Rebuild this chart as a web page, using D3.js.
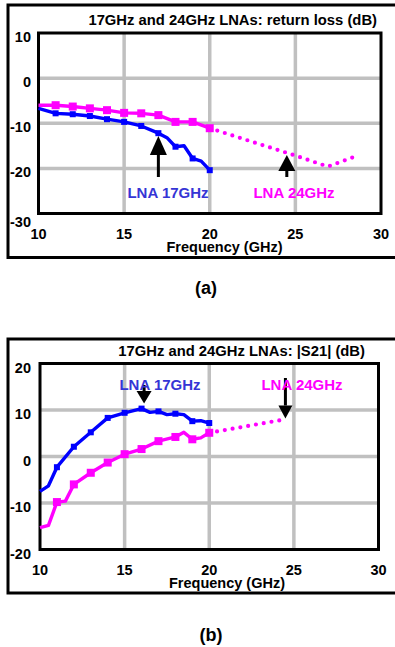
<!DOCTYPE html>
<html>
<head>
<meta charset="utf-8">
<script src="https://cdn.jsdelivr.net/npm/d3@7"></script>
<style>
  body { margin: 0; background: #fff; }
  text { font-family: Arial, "Liberation Sans", sans-serif; font-weight: bold; }
</style>
</head>
<body>
<script>
var w = 395;
var h = 647;

// ---- data ----
var freqTicks = [10, 15, 20, 25, 30];
var rlTicks = [10, 0, -10, -20, -30];
var s21Ticks = [20, 10, 0, -10, -20];

// return loss, LNA 17GHz (blue)
var rl17Freq = [10, 11, 12, 13, 14, 15, 16, 17, 17.5, 18, 18.5, 19, 19.5, 20];
var rl17Val = [-6.7, -7.8, -8.0, -8.4, -9.1, -9.7, -10.6, -12.2, -13.2, -15.2, -15.0, -17.8, -18.4, -20.4];
var rl17Marks = [11, 12, 13, 14, 15, 16, 17, 18, 19, 20];

// return loss, LNA 24GHz (magenta), measured + dotted part
var rl24Freq = [10, 11, 12, 13, 14, 15, 16, 17, 18, 19, 20];
var rl24Val = [-6.0, -6.0, -6.3, -6.7, -7.1, -7.7, -7.8, -8.2, -9.7, -9.7, -11.1];
var rl24ExtFreq = [20, 24.7, 26.9, 28.4];
var rl24ExtVal = [-11.1, -16.8, -19.6, -17.5];

// |S21|, LNA 17GHz (blue)
var s17Freq = [10, 10.5, 11, 12, 13, 14, 15, 16, 16.5, 17, 17.5, 18, 18.5, 19, 19.5, 20];
var s17Val = [-7.5, -6.3, -2.3, 2.1, 5.2, 8.3, 9.4, 10.3, 9.5, 9.7, 9.0, 9.2, 9.0, 7.6, 7.7, 7.2];
var s17Marks = [11, 12, 13, 14, 15, 16, 17, 18, 19, 20];

// |S21|, LNA 24GHz (magenta)
var s24Freq = [10, 10.5, 11, 11.5, 12, 13, 14, 15, 16, 17, 18, 18.5, 19, 19.5, 20];
var s24Val = [-15.3, -14.8, -9.8, -9.6, -6.0, -3.5, -1.3, 0.5, 1.6, 3.3, 4.2, 5.2, 3.7, 4.0, 5.1];
var s24Marks = [11, 12, 13, 14, 15, 16, 17, 18, 19, 20];
var s24ExtFreq = [20, 24.5];
var s24ExtVal = [5.1, 8.0];

var blue = "#0000ff";
var magenta = "#ff00ff";
var blueText = "#3535d5";
var grid = "#c0c0c0";

var svg = d3.select("body").append("svg")
  .attr("width", w)
  .attr("height", h);

function zip(xs, ys) {
  return xs.map((x, i) => ({ x: x, y: ys[i] }));
}

function pick(freqs, vals, marks) {
  return marks.map(m => ({ x: m, y: vals[freqs.indexOf(m)] }));
}

/**
 * Draws one framed panel.
 */
function drawPanel(p) {
  var g = svg.append("g");

  // outer frame
  g.append("rect")
    .attr("x", p.frame[0]).attr("y", p.frame[1])
    .attr("width", p.frame[2]).attr("height", p.frame[3])
    .attr("fill", "none").attr("stroke", "#000").attr("stroke-width", 3);

  var x = d3.scaleLinear().domain([10, 30]).range([p.left, p.right]);
  var y = d3.scaleLinear().domain(p.yDomain).range([p.bottom, p.top]);

  // grid
  g.selectAll(".gx").data(freqTicks.slice(1, -1))
    .enter().append("line")
    .attr("x1", d => x(d)).attr("x2", d => x(d))
    .attr("y1", p.top).attr("y2", p.bottom)
    .attr("stroke", grid).attr("stroke-width", 3.5);
  g.selectAll(".gy").data(p.yTicks.slice(1, -1))
    .enter().append("line")
    .attr("x1", p.left).attr("x2", p.right)
    .attr("y1", d => y(d)).attr("y2", d => y(d))
    .attr("stroke", grid).attr("stroke-width", 3.5);

  // plot box
  g.append("rect")
    .attr("x", p.left).attr("y", p.top)
    .attr("width", p.right - p.left).attr("height", p.bottom - p.top)
    .attr("fill", "none").attr("stroke", "#000").attr("stroke-width", 3);

  // tick labels
  g.selectAll(".ty").data(p.yTicks)
    .enter().append("text")
    .attr("x", 31).attr("y", (d, i) => y(d) + (i == p.yTicks.length - 1 ? p.lastDy : 9))
    .attr("text-anchor", "end")
    .style("font-size", "14.5px")
    .text(d => d);
  g.selectAll(".tx").data(freqTicks)
    .enter().append("text")
    .attr("x", d => x(d)).attr("y", p.bottom + 25.5)
    .attr("text-anchor", "middle")
    .style("font-size", "14.5px")
    .text(d => d);

  g.append("text")
    .attr("x", p.freqX).attr("y", p.bottom + 38)
    .attr("text-anchor", "middle")
    .style("font-size", "14.5px")
    .text("Frequency (GHz)");

  g.append("text")
    .attr("x", p.titleX).attr("y", p.top - 8)
    .attr("text-anchor", "end")
    .style("font-size", "14.8px")
    .text(p.title);

  var line = d3.line().x(d => x(d.x)).y(d => y(d.y));

  p.series.forEach(s => {
    if (s.ext) {
      g.append("path")
        .attr("d", line(s.ext))
        .attr("fill", "none")
        .attr("stroke", s.color)
        .attr("stroke-width", 4.2)
        .attr("stroke-linecap", "round")
        .attr("stroke-dasharray", "0,7.9");
    }
    g.append("path")
      .attr("d", line(s.pts))
      .attr("fill", "none")
      .attr("stroke", s.color)
      .attr("stroke-width", 3.4)
      .attr("stroke-linejoin", "round");
    g.selectAll(null).data(s.marks)
      .enter().append("rect")
      .attr("x", d => x(d.x) - s.size / 2)
      .attr("y", d => y(d.y) - s.size / 2)
      .attr("width", s.size).attr("height", s.size)
      .attr("fill", s.color);
  });

  // arrows
  p.arrows.forEach(a => {
    var ax = x(a.f);
    var dir = a.tip < a.tail ? 1 : -1; // 1 = pointing up
    g.append("line")
      .attr("x1", ax).attr("x2", ax)
      .attr("y1", a.tail).attr("y2", a.tip + dir * a.head)
      .attr("stroke", "#000").attr("stroke-width", 3);
    g.append("path")
      .attr("d", "M" + [ax, a.tip] + "L" + [ax - a.hw, a.tip + dir * a.head] +
        "L" + [ax + a.hw, a.tip + dir * a.head] + "Z")
      .attr("fill", "#000");
  });

  // labels
  p.labels.forEach(l => {
    g.append("text")
      .attr("x", l.x).attr("y", l.y)
      .attr("text-anchor", "middle")
      .attr("fill", l.color)
      .style("font-size", "15px")
      .text(l.text);
  });

  svg.append("text")
    .attr("x", p.caption[0]).attr("y", p.caption[1])
    .attr("text-anchor", "middle")
    .style("font-size", "18px")
    .text(p.captionText);
}

drawPanel({
  frame: [8, 5, 400, 252.5],
  left: 38.5, right: 381, top: 33, bottom: 213.5,
  yDomain: [-30, 10], yTicks: rlTicks, lastDy: 13,
  title: "17GHz and 24GHz LNAs: return loss (dB)", titleX: 377, freqX: 224.5,
  series: [
    { color: magenta, size: 8, pts: zip(rl24Freq, rl24Val), ext: zip(rl24ExtFreq, rl24ExtVal),
      marks: pick(rl24Freq, rl24Val, rl24Freq.slice(1)) },
    { color: blue, size: 6, pts: zip(rl17Freq, rl17Val),
      marks: pick(rl17Freq, rl17Val, rl17Marks) }
  ],
  arrows: [
    { f: 17, tip: 136, tail: 177, head: 19, hw: 8.5 },
    { f: 24.5, tip: 155, tail: 177, head: 16, hw: 8.5 }
  ],
  labels: [
    { x: 168, y: 198, text: "LNA 17GHz", color: blueText },
    { x: 294, y: 198, text: "LNA 24GHz", color: magenta }
  ],
  caption: [206, 294], captionText: "(a)"
});

drawPanel({
  frame: [8, 339, 400, 254],
  left: 40, right: 378.5, top: 363.5, bottom: 549.5,
  yDomain: [-20, 20], yTicks: s21Ticks, lastDy: 9,
  title: "17GHz and 24GHz LNAs: |S21| (dB)", titleX: 365, freqX: 227,
  series: [
    { color: magenta, size: 8, pts: zip(s24Freq, s24Val), ext: zip(s24ExtFreq, s24ExtVal),
      marks: pick(s24Freq, s24Val, s24Marks) },
    { color: blue, size: 6, pts: zip(s17Freq, s17Val),
      marks: pick(s17Freq, s17Val, s17Marks) }
  ],
  arrows: [
    { f: 16.15, tip: 403.5, tail: 385, head: 12.5, hw: 7.5 },
    { f: 24.5, tip: 418.5, tail: 378, head: 13, hw: 7 }
  ],
  labels: [
    { x: 160, y: 390, text: "LNA 17GHz", color: blueText },
    { x: 302, y: 390, text: "LNA 24GHz", color: magenta }
  ],
  caption: [211, 641], captionText: "(b)"
});
</script>
</body>
</html>
